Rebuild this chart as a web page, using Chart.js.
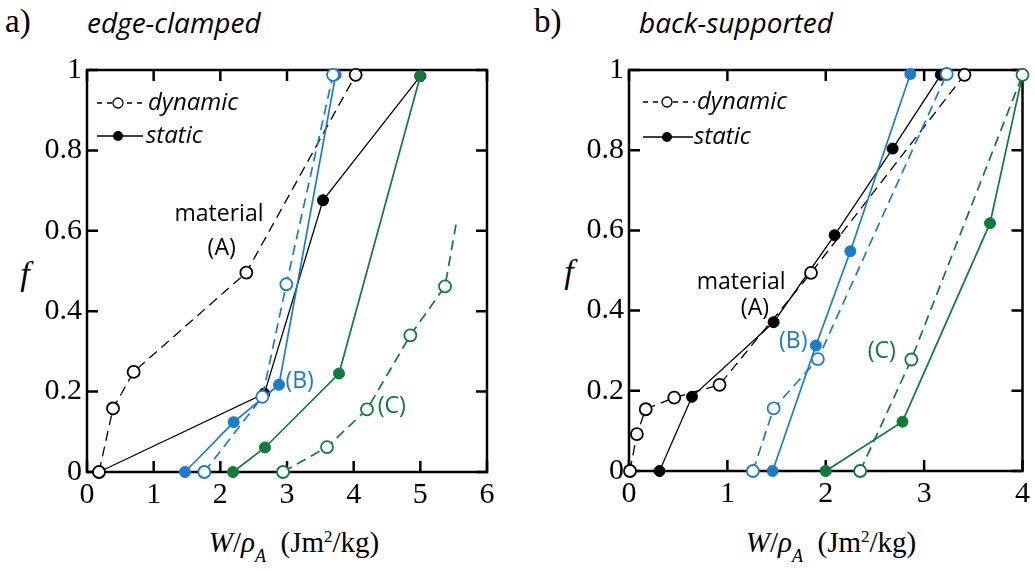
<!DOCTYPE html>
<html>
<head>
<meta charset="utf-8">
<script src="https://cdn.jsdelivr.net/npm/chart.js@4.4.0/dist/chart.umd.min.js"></script>
<style>
body { margin: 0; background: #fff; width: 1035px; height: 571px; position: relative; overflow: hidden; }
canvas { position: absolute; top: 0; }
.lbl { position: absolute; white-space: nowrap; line-height: 1; transform: translate(0, -50%); color: #000; }
.mid { transform: translate(-50%, -50%); }
.panel { font-family: "Liberation Serif", serif; font-size: 33px; }
.cond { font-family: "Open Sans", sans-serif; font-style: italic; font-size: 28px; }
.fax { font-family: "Liberation Serif", serif; font-style: italic; font-size: 34px; }
.xax { font-family: "Liberation Serif", serif; font-size: 29px; }
.xax sub { font-size: 18px; vertical-align: -10px; }
.xax sup { font-size: 17px; vertical-align: 10px; }
</style>
</head>
<body>
<div class="lbl panel" style="left:5px; top:21px;">a)</div>
<div class="lbl cond" style="left:87px; top:22px;">edge-clamped</div>
<div class="lbl panel" style="left:534px; top:21px;">b)</div>
<div class="lbl cond" style="left:639px; top:22px;">back-supported</div>
<div class="lbl fax mid" style="left:25px; top:274px;">f</div>
<div class="lbl fax mid" style="left:569px; top:272px;">f</div>
<div class="lbl xax mid" style="left:294px; top:546px;"><i>W</i>/<i>ρ</i><sub><i>A</i></sub>&nbsp;&nbsp;(Jm<sup>2</sup>/kg)</div>
<div class="lbl xax mid" style="left:831px; top:546px;"><i>W</i>/<i>ρ</i><sub><i>A</i></sub>&nbsp;&nbsp;(Jm<sup>2</sup>/kg)</div>

<canvas id="edge" width="517" height="571" style="left:0px;"></canvas>
<canvas id="back" width="518" height="571" style="left:517px;"></canvas>

<script>
// tick values
var yTicks = [0, 0.2, 0.4, 0.6, 0.8, 1];
var yTickLabels = ['0', '0.2', '0.4', '0.6', '0.8', '1'];
var xTicksEdge = [0, 1, 2, 3, 4, 5, 6];
var xTicksBack = [0, 1, 2, 3, 4];

// a) edge-clamped : [W/rhoA, f]
var edgeDynA = [[0.18, 0], [0.39, 0.158], [0.70, 0.249], [2.39, 0.496], [4.03, 0.988]];
var edgeStatA = [[0.18, 0], [2.66, 0.195], [3.54, 0.676], [5.0, 0.985]];
var edgeDynB = [[1.76, 0], [2.63, 0.187], [2.99, 0.467], [3.69, 0.988]];
var edgeStatB = [[1.47, 0], [2.2, 0.124], [2.88, 0.217], [3.73, 0.988]];
var edgeDynC = [[2.94, 0], [3.6, 0.062], [4.2, 0.156], [4.85, 0.34], [5.37, 0.462], [5.54, 0.62]];
var edgeStatC = [[2.19, 0], [2.67, 0.061], [3.78, 0.245], [5.0, 0.985]];

// b) back-supported
var backDynA = [[0.01, 0], [0.08, 0.092], [0.17, 0.154], [0.46, 0.183], [0.92, 0.215], [1.85, 0.494], [3.41, 0.988]];
var backStatA = [[0.31, 0], [0.64, 0.185], [1.47, 0.371], [2.09, 0.588], [2.68, 0.804], [3.17, 0.988]];
var backDynB = [[1.26, 0], [1.47, 0.156], [1.92, 0.279], [3.23, 0.99]];
var backStatB = [[1.46, 0], [1.9, 0.313], [2.25, 0.548], [2.86, 0.99]];
var backDynC = [[2.35, 0], [2.87, 0.278], [4.0, 0.988]];
var backStatC = [[2.0, 0], [2.78, 0.123], [3.67, 0.618], [4.0, 0.988]];

var BLACK = '#000000';
var BLUE = '#1c7ccc';
var GREEN = '#0e7a3b';

function pts(arr) {
    return arr.map(function(p) { return { x: p[0], y: p[1] }; });
}

// одна кривая: пунктир + пустые кружки (dynamic) или сплошная + залитые (static)
function series(data, color, dyn, order, radii) {
    return {
        data: pts(data),
        borderColor: color,
        borderWidth: color === BLACK ? 1.3 : 1.7,
        borderDash: dyn ? [10, 6] : [],
        pointRadius: radii || (dyn ? 6 : 5.5),
        pointBorderWidth: dyn ? 1.8 : 1,
        pointBorderColor: color,
        pointBackgroundColor: dyn ? '#ffffff' : color,
        fill: false,
        tension: 0,
        clip: false,
        order: order
    };
}

// рамка и внутренние засечки на всех четырёх сторонах
var framePlugin = {
    id: 'frame',
    beforeDatasetsDraw: function(chart) {
        var ctx = chart.ctx, a = chart.chartArea;
        var xs = chart.scales.x, ys = chart.scales.y;
        var len = 11;
        ctx.save();
        ctx.strokeStyle = '#000';
        ctx.lineWidth = 2.5;
        ctx.setLineDash([]);
        ctx.strokeRect(a.left, a.top, a.right - a.left, a.bottom - a.top);
        ctx.beginPath();
        xs.ticks.forEach(function(t) {
            var px = xs.getPixelForValue(t.value);
            ctx.moveTo(px, a.bottom); ctx.lineTo(px, a.bottom - len);
            ctx.moveTo(px, a.top); ctx.lineTo(px, a.top + len);
        });
        ys.ticks.forEach(function(t) {
            var py = ys.getPixelForValue(t.value);
            ctx.moveTo(a.left, py); ctx.lineTo(a.left + len, py);
            ctx.moveTo(a.right, py); ctx.lineTo(a.right - len, py);
        });
        ctx.stroke();
        ctx.restore();
    }
};

// легенда dynamic / static внутри графика
var keyPlugin = {
    id: 'key',
    afterDatasetsDraw: function(chart, args, o) {
        var ctx = chart.ctx;
        ctx.save();
        ctx.strokeStyle = '#000';
        ctx.lineWidth = 1.3;
        ctx.setLineDash([5, 5]);
        ctx.beginPath(); ctx.moveTo(o.x0, o.y1); ctx.lineTo(o.x1, o.y1); ctx.stroke();
        ctx.setLineDash([]);
        ctx.beginPath(); ctx.arc(o.cx, o.y1, 5, 0, 2 * Math.PI);
        ctx.fillStyle = '#fff'; ctx.fill(); ctx.stroke();
        ctx.beginPath(); ctx.moveTo(o.x0, o.y2); ctx.lineTo(o.x2, o.y2); ctx.stroke();
        ctx.beginPath(); ctx.arc(o.cx, o.y2, 5, 0, 2 * Math.PI);
        ctx.fillStyle = '#000'; ctx.fill();
        ctx.font = 'italic 24px "Open Sans"';
        ctx.textBaseline = 'middle';
        ctx.fillText('dynamic', o.tx1, o.y1);
        ctx.fillText('static', o.tx2, o.y2);
        ctx.restore();
    }
};

// подписи material (A), (B), (C) в координатах данных
var notesPlugin = {
    id: 'notes',
    afterDatasetsDraw: function(chart, args, o) {
        var ctx = chart.ctx, xs = chart.scales.x, ys = chart.scales.y;
        ctx.save();
        ctx.font = '23px "Open Sans"';
        ctx.textAlign = 'center';
        ctx.textBaseline = 'middle';
        o.items.forEach(function(n) {
            ctx.fillStyle = n.color;
            ctx.fillText(n.text, xs.getPixelForValue(n.x), ys.getPixelForValue(n.y));
        });
        ctx.restore();
    }
};

function makePanel(id, xMax, xTicks, yWidth, padRight, bottom, sets, notes, key) {
    var tickFont = { family: 'Liberation Serif', size: 30 };
    return new Chart(document.getElementById(id), {
        type: 'line',
        data: { datasets: sets },
        options: {
            responsive: false,
            animation: false,
            events: [],
            layout: { padding: { left: 0, top: 70, right: padRight, bottom: 0 } },
            plugins: {
                legend: { display: false },
                tooltip: { enabled: false },
                key: key,
                notes: { items: notes }
            },
            scales: {
                x: {
                    type: 'linear', min: 0, max: xMax,
                    afterBuildTicks: function(s) { s.ticks = xTicks.map(function(v) { return { value: v }; }); },
                    afterFit: function(s) { s.height = 571 - bottom; },
                    grid: { display: false, drawTicks: false },
                    border: { display: false },
                    ticks: { font: tickFont, color: '#000', padding: 5, maxRotation: 0, autoSkip: false,
                        callback: function(v) { return String(v); } }
                },
                y: {
                    type: 'linear', min: 0, max: 1,
                    afterBuildTicks: function(s) { s.ticks = yTicks.map(function(v) { return { value: v }; }); },
                    afterFit: function(s) { s.width = yWidth; },
                    grid: { display: false, drawTicks: false },
                    border: { display: false },
                    ticks: { font: tickFont, color: '#000', padding: 5, autoSkip: false,
                        callback: function(v, i) { return yTickLabels[i]; } }
                }
            }
        },
        plugins: [framePlugin, keyPlugin, notesPlugin]
    });
}

document.addEventListener('DOMContentLoaded', function() {
    makePanel('edge', 6, xTicksEdge, 87, 30, 472, [
        series(edgeDynC, GREEN, true, 1, [6, 6, 6, 6, 6, 0]),
        series(edgeStatC, GREEN, false, 2),
        series(edgeDynB, BLUE, true, 3),
        series(edgeStatB, BLUE, false, 4),
        series(edgeDynA, BLACK, true, 5),
        series(edgeStatA, BLACK, false, 6)
    ], [
        { text: 'material', x: 1.98, y: 0.64, color: BLACK },
        { text: '(A)', x: 2.02, y: 0.557, color: BLACK },
        { text: '(B)', x: 3.19, y: 0.226, color: BLUE },
        { text: '(C)', x: 4.57, y: 0.162, color: GREEN }
    ], { x0: 97, x1: 145, x2: 143, cx: 118, y1: 103, y2: 136, tx1: 148, tx2: 146 });

    makePanel('back', 4, xTicksBack, 112, 6, 471, [
        series(backDynC, GREEN, true, 1),
        series(backStatC, GREEN, false, 2),
        series(backDynB, BLUE, true, 3),
        series(backStatB, BLUE, false, 4),
        series(backDynA, BLACK, true, 5),
        series(backStatA, BLACK, false, 6)
    ], [
        { text: 'material', x: 1.14, y: 0.469, color: BLACK },
        { text: '(A)', x: 1.28, y: 0.406, color: BLACK },
        { text: '(B)', x: 1.67, y: 0.322, color: BLUE },
        { text: '(C)', x: 2.57, y: 0.297, color: GREEN }
    ], { x0: 126, x1: 178, x2: 176, cx: 150, y1: 102, y2: 137, tx1: 180, tx2: 177 });
});
</script>
</body>
</html>
